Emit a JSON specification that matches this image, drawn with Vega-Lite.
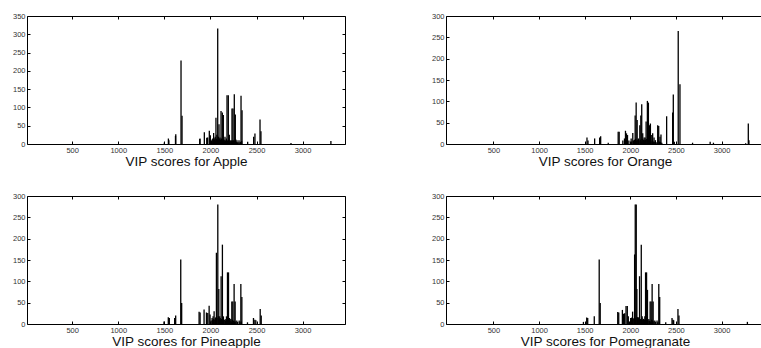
{
  "$schema": "https://vega.github.io/schema/vega-lite/v6.json",
  "padding": {"left": 11, "top": 11, "right": 0, "bottom": 0},
  "background": "white",
  "config": {
    "view": {"stroke": "#000", "strokeWidth": 1},
    "axis": {"domain": false, "grid": false, "ticks": true, "tickSize": -3, "tickColor": "#000", "tickWidth": 1,
      "labelFont": "Liberation Sans", "labelFontSize": 7.5, "labelColor": "#333", "labelPadding": 5, "format": "d",
      "titleFont": "Liberation Sans", "titleFontSize": 13.5, "titleFontWeight": "normal", "titleColor": "#111", "titlePadding": 1}
  },
  "data": {"values": [
    {"f":"Apple","w":1500,"v":4},{"f":"Apple","w":1544,"v":15},{"f":"Apple","w":1549,"v":10},{"f":"Apple","w":1621,"v":22},{"f":"Apple","w":1624,"v":27},{"f":"Apple","w":1681,"v":228},{"f":"Apple","w":1692,"v":77},{"f":"Apple","w":1884,"v":14},{"f":"Apple","w":1887,"v":15},{"f":"Apple","w":1934,"v":32},{"f":"Apple","w":1960,"v":17},{"f":"Apple","w":1970,"v":18},{"f":"Apple","w":1988,"v":36},{"f":"Apple","w":1999,"v":24},{"f":"Apple","w":2005,"v":10},{"f":"Apple","w":2012,"v":8},{"f":"Apple","w":2018,"v":12},{"f":"Apple","w":2025,"v":15},{"f":"Apple","w":2030,"v":6},{"f":"Apple","w":2035,"v":30},{"f":"Apple","w":2040,"v":10},{"f":"Apple","w":2045,"v":12},{"f":"Apple","w":2048,"v":16},{"f":"Apple","w":2052,"v":20},{"f":"Apple","w":2056,"v":8},{"f":"Apple","w":2060,"v":72},{"f":"Apple","w":2066,"v":14},{"f":"Apple","w":2070,"v":25},{"f":"Apple","w":2075,"v":10},{"f":"Apple","w":2079,"v":316},{"f":"Apple","w":2083,"v":12},{"f":"Apple","w":2086,"v":20},{"f":"Apple","w":2093,"v":54},{"f":"Apple","w":2098,"v":15},{"f":"Apple","w":2104,"v":18},{"f":"Apple","w":2108,"v":8},{"f":"Apple","w":2110,"v":12},{"f":"Apple","w":2115,"v":90},{"f":"Apple","w":2118,"v":10},{"f":"Apple","w":2122,"v":15},{"f":"Apple","w":2126,"v":14},{"f":"Apple","w":2129,"v":86},{"f":"Apple","w":2135,"v":8},{"f":"Apple","w":2140,"v":79},{"f":"Apple","w":2145,"v":12},{"f":"Apple","w":2150,"v":10},{"f":"Apple","w":2155,"v":6},{"f":"Apple","w":2158,"v":20},{"f":"Apple","w":2162,"v":10},{"f":"Apple","w":2166,"v":8},{"f":"Apple","w":2170,"v":8},{"f":"Apple","w":2173,"v":15},{"f":"Apple","w":2180,"v":133},{"f":"Apple","w":2185,"v":10},{"f":"Apple","w":2190,"v":8},{"f":"Apple","w":2194,"v":133},{"f":"Apple","w":2200,"v":12},{"f":"Apple","w":2205,"v":25},{"f":"Apple","w":2210,"v":6},{"f":"Apple","w":2215,"v":8},{"f":"Apple","w":2223,"v":11},{"f":"Apple","w":2228,"v":8},{"f":"Apple","w":2234,"v":97},{"f":"Apple","w":2240,"v":10},{"f":"Apple","w":2245,"v":97},{"f":"Apple","w":2252,"v":10},{"f":"Apple","w":2259,"v":136},{"f":"Apple","w":2265,"v":8},{"f":"Apple","w":2270,"v":81},{"f":"Apple","w":2275,"v":12},{"f":"Apple","w":2278,"v":6},{"f":"Apple","w":2283,"v":5},{"f":"Apple","w":2288,"v":10},{"f":"Apple","w":2295,"v":4},{"f":"Apple","w":2300,"v":5},{"f":"Apple","w":2310,"v":10},{"f":"Apple","w":2320,"v":4},{"f":"Apple","w":2325,"v":6},{"f":"Apple","w":2332,"v":132},{"f":"Apple","w":2338,"v":8},{"f":"Apple","w":2343,"v":92},{"f":"Apple","w":2404,"v":6},{"f":"Apple","w":2469,"v":20},{"f":"Apple","w":2483,"v":29},{"f":"Apple","w":2538,"v":67},{"f":"Apple","w":2548,"v":35},{"f":"Apple","w":2874,"v":3},{"f":"Apple","w":3307,"v":8},

    {"f":"Orange","w":1525,"v":15},{"f":"Orange","w":1536,"v":8},{"f":"Orange","w":1609,"v":13},{"f":"Orange","w":1664,"v":15},{"f":"Orange","w":1675,"v":18},{"f":"Orange","w":1758,"v":3},{"f":"Orange","w":1867,"v":29},{"f":"Orange","w":1878,"v":29},{"f":"Orange","w":1918,"v":8},{"f":"Orange","w":1936,"v":13},{"f":"Orange","w":1947,"v":31},{"f":"Orange","w":1958,"v":25},{"f":"Orange","w":1969,"v":21},{"f":"Orange","w":1984,"v":8},{"f":"Orange","w":2009,"v":13},{"f":"Orange","w":2015,"v":6},{"f":"Orange","w":2027,"v":26},{"f":"Orange","w":2034,"v":8},{"f":"Orange","w":2042,"v":9},{"f":"Orange","w":2047,"v":10},{"f":"Orange","w":2053,"v":67},{"f":"Orange","w":2058,"v":12},{"f":"Orange","w":2064,"v":97},{"f":"Orange","w":2070,"v":8},{"f":"Orange","w":2075,"v":56},{"f":"Orange","w":2082,"v":10},{"f":"Orange","w":2089,"v":13},{"f":"Orange","w":2095,"v":8},{"f":"Orange","w":2104,"v":44},{"f":"Orange","w":2110,"v":10},{"f":"Orange","w":2115,"v":67},{"f":"Orange","w":2120,"v":6},{"f":"Orange","w":2125,"v":93},{"f":"Orange","w":2130,"v":12},{"f":"Orange","w":2136,"v":25},{"f":"Orange","w":2142,"v":10},{"f":"Orange","w":2150,"v":10},{"f":"Orange","w":2151,"v":15},{"f":"Orange","w":2156,"v":8},{"f":"Orange","w":2162,"v":15},{"f":"Orange","w":2168,"v":10},{"f":"Orange","w":2173,"v":53},{"f":"Orange","w":2180,"v":12},{"f":"Orange","w":2187,"v":101},{"f":"Orange","w":2192,"v":8},{"f":"Orange","w":2198,"v":97},{"f":"Orange","w":2204,"v":10},{"f":"Orange","w":2209,"v":44},{"f":"Orange","w":2214,"v":8},{"f":"Orange","w":2220,"v":48},{"f":"Orange","w":2226,"v":6},{"f":"Orange","w":2235,"v":21},{"f":"Orange","w":2240,"v":8},{"f":"Orange","w":2245,"v":25},{"f":"Orange","w":2252,"v":6},{"f":"Orange","w":2260,"v":15},{"f":"Orange","w":2268,"v":5},{"f":"Orange","w":2275,"v":9},{"f":"Orange","w":2290,"v":4},{"f":"Orange","w":2300,"v":44},{"f":"Orange","w":2311,"v":42},{"f":"Orange","w":2318,"v":6},{"f":"Orange","w":2325,"v":17},{"f":"Orange","w":2330,"v":5},{"f":"Orange","w":2336,"v":22},{"f":"Orange","w":2345,"v":3},{"f":"Orange","w":2398,"v":65},{"f":"Orange","w":2464,"v":74},{"f":"Orange","w":2471,"v":116},{"f":"Orange","w":2482,"v":5},{"f":"Orange","w":2525,"v":265},{"f":"Orange","w":2544,"v":140},{"f":"Orange","w":2682,"v":3},{"f":"Orange","w":2875,"v":5},{"f":"Orange","w":2911,"v":3},{"f":"Orange","w":3264,"v":2},{"f":"Orange","w":3293,"v":48},{"f":"Orange","w":3300,"v":9},

    {"f":"Pineapple","w":1496,"v":6},{"f":"Pineapple","w":1543,"v":16},{"f":"Pineapple","w":1554,"v":14},{"f":"Pineapple","w":1612,"v":14},{"f":"Pineapple","w":1623,"v":20},{"f":"Pineapple","w":1678,"v":151},{"f":"Pineapple","w":1688,"v":49},{"f":"Pineapple","w":1877,"v":29},{"f":"Pineapple","w":1888,"v":27},{"f":"Pineapple","w":1931,"v":34},{"f":"Pineapple","w":1957,"v":27},{"f":"Pineapple","w":1971,"v":26},{"f":"Pineapple","w":1986,"v":43},{"f":"Pineapple","w":1996,"v":22},{"f":"Pineapple","w":2008,"v":8},{"f":"Pineapple","w":2018,"v":14},{"f":"Pineapple","w":2024,"v":10},{"f":"Pineapple","w":2029,"v":18},{"f":"Pineapple","w":2035,"v":12},{"f":"Pineapple","w":2040,"v":30},{"f":"Pineapple","w":2047,"v":10},{"f":"Pineapple","w":2054,"v":14},{"f":"Pineapple","w":2059,"v":16},{"f":"Pineapple","w":2065,"v":167},{"f":"Pineapple","w":2072,"v":14},{"f":"Pineapple","w":2080,"v":280},{"f":"Pineapple","w":2085,"v":18},{"f":"Pineapple","w":2091,"v":82},{"f":"Pineapple","w":2096,"v":12},{"f":"Pineapple","w":2101,"v":18},{"f":"Pineapple","w":2106,"v":14},{"f":"Pineapple","w":2110,"v":10},{"f":"Pineapple","w":2116,"v":112},{"f":"Pineapple","w":2122,"v":12},{"f":"Pineapple","w":2130,"v":186},{"f":"Pineapple","w":2136,"v":14},{"f":"Pineapple","w":2141,"v":18},{"f":"Pineapple","w":2148,"v":10},{"f":"Pineapple","w":2156,"v":10},{"f":"Pineapple","w":2162,"v":8},{"f":"Pineapple","w":2168,"v":12},{"f":"Pineapple","w":2174,"v":18},{"f":"Pineapple","w":2180,"v":10},{"f":"Pineapple","w":2185,"v":121},{"f":"Pineapple","w":2190,"v":8},{"f":"Pineapple","w":2196,"v":121},{"f":"Pineapple","w":2202,"v":10},{"f":"Pineapple","w":2207,"v":14},{"f":"Pineapple","w":2214,"v":8},{"f":"Pineapple","w":2221,"v":12},{"f":"Pineapple","w":2226,"v":6},{"f":"Pineapple","w":2232,"v":53},{"f":"Pineapple","w":2238,"v":10},{"f":"Pineapple","w":2243,"v":53},{"f":"Pineapple","w":2250,"v":8},{"f":"Pineapple","w":2257,"v":94},{"f":"Pineapple","w":2262,"v":6},{"f":"Pineapple","w":2268,"v":53},{"f":"Pineapple","w":2275,"v":6},{"f":"Pineapple","w":2286,"v":8},{"f":"Pineapple","w":2295,"v":5},{"f":"Pineapple","w":2312,"v":8},{"f":"Pineapple","w":2320,"v":5},{"f":"Pineapple","w":2330,"v":94},{"f":"Pineapple","w":2335,"v":6},{"f":"Pineapple","w":2341,"v":63},{"f":"Pineapple","w":2402,"v":4},{"f":"Pineapple","w":2467,"v":14},{"f":"Pineapple","w":2482,"v":10},{"f":"Pineapple","w":2493,"v":9},{"f":"Pineapple","w":2540,"v":35},{"f":"Pineapple","w":2551,"v":20},

    {"f":"Pomegranate","w":1486,"v":5},{"f":"Pomegranate","w":1522,"v":15},{"f":"Pomegranate","w":1533,"v":14},{"f":"Pomegranate","w":1605,"v":18},{"f":"Pomegranate","w":1659,"v":151},{"f":"Pomegranate","w":1670,"v":49},{"f":"Pomegranate","w":1862,"v":28},{"f":"Pomegranate","w":1873,"v":27},{"f":"Pomegranate","w":1913,"v":33},{"f":"Pomegranate","w":1924,"v":24},{"f":"Pomegranate","w":1938,"v":25},{"f":"Pomegranate","w":1953,"v":42},{"f":"Pomegranate","w":1967,"v":42},{"f":"Pomegranate","w":1978,"v":18},{"f":"Pomegranate","w":1990,"v":6},{"f":"Pomegranate","w":2004,"v":14},{"f":"Pomegranate","w":2008,"v":8},{"f":"Pomegranate","w":2014,"v":15},{"f":"Pomegranate","w":2020,"v":10},{"f":"Pomegranate","w":2025,"v":29},{"f":"Pomegranate","w":2032,"v":12},{"f":"Pomegranate","w":2040,"v":14},{"f":"Pomegranate","w":2047,"v":163},{"f":"Pomegranate","w":2054,"v":280},{"f":"Pomegranate","w":2058,"v":14},{"f":"Pomegranate","w":2065,"v":280},{"f":"Pomegranate","w":2072,"v":82},{"f":"Pomegranate","w":2078,"v":16},{"f":"Pomegranate","w":2083,"v":12},{"f":"Pomegranate","w":2087,"v":16},{"f":"Pomegranate","w":2094,"v":14},{"f":"Pomegranate","w":2101,"v":112},{"f":"Pomegranate","w":2108,"v":10},{"f":"Pomegranate","w":2114,"v":12},{"f":"Pomegranate","w":2120,"v":186},{"f":"Pomegranate","w":2125,"v":14},{"f":"Pomegranate","w":2130,"v":18},{"f":"Pomegranate","w":2136,"v":10},{"f":"Pomegranate","w":2145,"v":12},{"f":"Pomegranate","w":2150,"v":8},{"f":"Pomegranate","w":2155,"v":10},{"f":"Pomegranate","w":2159,"v":18},{"f":"Pomegranate","w":2167,"v":121},{"f":"Pomegranate","w":2172,"v":12},{"f":"Pomegranate","w":2178,"v":121},{"f":"Pomegranate","w":2183,"v":10},{"f":"Pomegranate","w":2188,"v":80},{"f":"Pomegranate","w":2195,"v":8},{"f":"Pomegranate","w":2203,"v":12},{"f":"Pomegranate","w":2210,"v":8},{"f":"Pomegranate","w":2217,"v":53},{"f":"Pomegranate","w":2222,"v":6},{"f":"Pomegranate","w":2228,"v":53},{"f":"Pomegranate","w":2234,"v":10},{"f":"Pomegranate","w":2239,"v":94},{"f":"Pomegranate","w":2245,"v":8},{"f":"Pomegranate","w":2250,"v":53},{"f":"Pomegranate","w":2258,"v":6},{"f":"Pomegranate","w":2268,"v":8},{"f":"Pomegranate","w":2278,"v":5},{"f":"Pomegranate","w":2293,"v":8},{"f":"Pomegranate","w":2300,"v":4},{"f":"Pomegranate","w":2312,"v":94},{"f":"Pomegranate","w":2318,"v":6},{"f":"Pomegranate","w":2322,"v":63},{"f":"Pomegranate","w":2388,"v":4},{"f":"Pomegranate","w":2457,"v":14},{"f":"Pomegranate","w":2467,"v":10},{"f":"Pomegranate","w":2475,"v":9},{"f":"Pomegranate","w":2522,"v":35},{"f":"Pomegranate","w":2533,"v":20},{"f":"Pomegranate","w":3283,"v":5}
  ]},
  "columns": 2,
  "spacing": {"row": 52, "column": 101},
  "bounds": "flush",
  "concat": [
      {"width": 318, "height": 128, "transform": [{"filter": "datum.f === 'Apple'"}],
       "layer": [
        {"mark": {"type": "rule", "color": "#000", "strokeWidth": 1.3},
         "encoding": {
          "x": {"field": "w", "type": "quantitative", "scale": {"domain": [10, 3460], "nice": false, "zero": false}, "axis": {"orient": "bottom", "values": [500, 1000, 1500, 2000, 2500, 3000], "title": "VIP scores for Apple"}},
          "y": {"field": "v", "type": "quantitative", "scale": {"domain": [0, 350], "nice": false}, "axis": {"orient": "left", "values": [0, 50, 100, 150, 200, 250, 300, 350], "title": null}},
          "y2": {"datum": 0}}},
        {"mark": {"type": "rule", "opacity": 0},
         "encoding": {
          "x": {"field": "w", "type": "quantitative", "axis": {"orient": "top", "values": [500, 1000, 1500, 2000, 2500, 3000], "labels": false, "title": null}},
          "y": {"field": "v", "type": "quantitative", "axis": {"orient": "right", "values": [0, 50, 100, 150, 200, 250, 300, 350], "labels": false, "title": null}},
          "y2": {"datum": 0}}}
       ],
       "resolve": {"axis": {"x": "independent", "y": "independent"}}},
      {"width": 318, "height": 128, "transform": [{"filter": "datum.f === 'Orange'"}],
       "layer": [
        {"mark": {"type": "rule", "color": "#000", "strokeWidth": 1.3},
         "encoding": {
          "x": {"field": "w", "type": "quantitative", "scale": {"domain": [-20, 3465], "nice": false, "zero": false}, "axis": {"orient": "bottom", "values": [500, 1000, 1500, 2000, 2500, 3000], "title": "VIP scores for Orange"}},
          "y": {"field": "v", "type": "quantitative", "scale": {"domain": [0, 300], "nice": false}, "axis": {"orient": "left", "values": [0, 50, 100, 150, 200, 250, 300], "title": null}},
          "y2": {"datum": 0}}},
        {"mark": {"type": "rule", "opacity": 0},
         "encoding": {
          "x": {"field": "w", "type": "quantitative", "axis": {"orient": "top", "values": [500, 1000, 1500, 2000, 2500, 3000], "labels": false, "title": null}},
          "y": {"field": "v", "type": "quantitative", "axis": {"orient": "right", "values": [0, 50, 100, 150, 200, 250, 300], "labels": false, "title": null}},
          "y2": {"datum": 0}}}
       ],
       "resolve": {"axis": {"x": "independent", "y": "independent"}}},
      {"width": 318, "height": 128, "transform": [{"filter": "datum.f === 'Pineapple'"}],
       "layer": [
        {"mark": {"type": "rule", "color": "#000", "strokeWidth": 1.3},
         "encoding": {
          "x": {"field": "w", "type": "quantitative", "scale": {"domain": [10, 3460], "nice": false, "zero": false}, "axis": {"orient": "bottom", "values": [500, 1000, 1500, 2000, 2500, 3000], "title": "VIP scores for Pineapple"}},
          "y": {"field": "v", "type": "quantitative", "scale": {"domain": [0, 300], "nice": false}, "axis": {"orient": "left", "values": [0, 50, 100, 150, 200, 250, 300], "title": null}},
          "y2": {"datum": 0}}},
        {"mark": {"type": "rule", "opacity": 0},
         "encoding": {
          "x": {"field": "w", "type": "quantitative", "axis": {"orient": "top", "values": [500, 1000, 1500, 2000, 2500, 3000], "labels": false, "title": null}},
          "y": {"field": "v", "type": "quantitative", "axis": {"orient": "right", "values": [0, 50, 100, 150, 200, 250, 300], "labels": false, "title": null}},
          "y2": {"datum": 0}}}
       ],
       "resolve": {"axis": {"x": "independent", "y": "independent"}}},
      {"width": 318, "height": 128, "transform": [{"filter": "datum.f === 'Pomegranate'"}],
       "layer": [
        {"mark": {"type": "rule", "color": "#000", "strokeWidth": 1.3},
         "encoding": {
          "x": {"field": "w", "type": "quantitative", "scale": {"domain": [-20, 3465], "nice": false, "zero": false}, "axis": {"orient": "bottom", "values": [500, 1000, 1500, 2000, 2500, 3000], "title": "VIP scores for Pomegranate"}},
          "y": {"field": "v", "type": "quantitative", "scale": {"domain": [0, 300], "nice": false}, "axis": {"orient": "left", "values": [0, 50, 100, 150, 200, 250, 300], "title": null}},
          "y2": {"datum": 0}}},
        {"mark": {"type": "rule", "opacity": 0},
         "encoding": {
          "x": {"field": "w", "type": "quantitative", "axis": {"orient": "top", "values": [500, 1000, 1500, 2000, 2500, 3000], "labels": false, "title": null}},
          "y": {"field": "v", "type": "quantitative", "axis": {"orient": "right", "values": [0, 50, 100, 150, 200, 250, 300], "labels": false, "title": null}},
          "y2": {"datum": 0}}}
       ],
       "resolve": {"axis": {"x": "independent", "y": "independent"}}}
  ]
}
